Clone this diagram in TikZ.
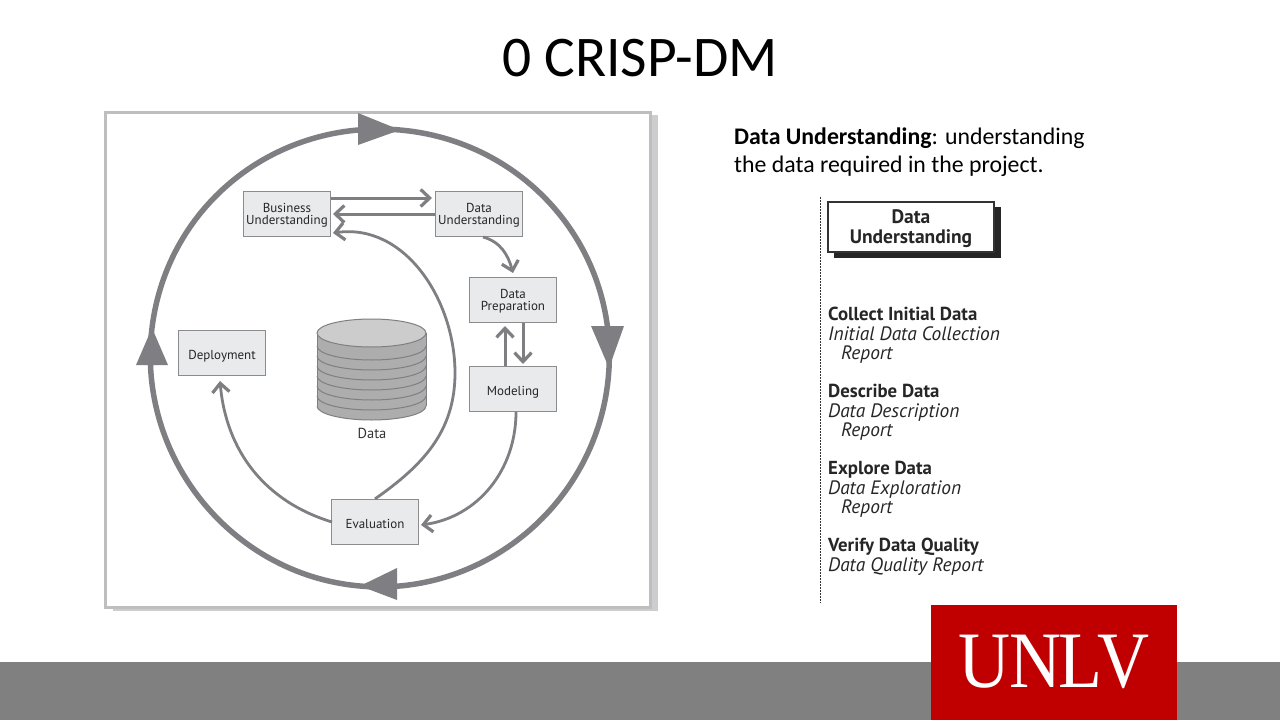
\documentclass[tikz,border=0pt]{standalone}
\usepackage{fontspec}
\setmainfont{Carlito}
\newfontfamily\figfont{PT Sans}
\newfontfamily\logofont{Liberation Serif}
\usepackage{xcolor}
\usetikzlibrary{arrows.meta,positioning}
\definecolor{cycgray}{HTML}{7F7F83}
\definecolor{boxfill}{HTML}{E9EAEB}
\definecolor{framegray}{HTML}{BEBEBE}
\definecolor{shadowgray}{HTML}{CDCDD0}
\definecolor{unlvred}{HTML}{C00000}
\newcommand{\taskname}[1]{{\bfseries\fontsize{18.8}{19.5}\selectfont #1}}
\newcommand{\taskwork}[1]{{\itshape\fontsize{19.4}{19.5}\selectfont #1}}
\tikzset{
  phase/.style ={draw=cycgray!90, line width=1.2pt, fill=boxfill, minimum width=87pt, minimum height=45pt, inner sep=0pt, align=center, text=black!85, text depth=0pt, font=\figfont\fontsize{13}{12}\selectfont},
  phase one/.style={phase, text height=13.5pt},
  cyc/.style   ={draw=cycgray, line width=5.5pt},
  cychead/.style={fill=cycgray},
  arr/.style   ={draw=cycgray, line width=3pt, -{Straight Barb[length=9pt,width=17pt,line width=3.2pt]}},
  thin arr/.style={arr, line width=2.8pt},
  task/.style  ={anchor=north west, inner sep=0pt, align=left, text=black!85, font=\figfont\fontsize{18}{19.5}\selectfont},
}
\begin{document}
\begin{tikzpicture}[x=1pt,y=-1pt]
  \useasboundingbox (0,0) rectangle (1280,720);
  \fill[white] (0,0) rectangle (1280,720);
  % slide furniture
  \fill[black!50] (0,662) rectangle (1280,720);
  \fill[unlvred] (931,605) rectangle (1177,720);
  \node[text=white, font=\logofont\fontsize{80}{80}\selectfont, inner sep=0pt] (logo) at (1054,662) {\scalebox{0.9}[1]{U\kern-2pt N\kern-3pt L\kern-6pt V}};
  \node[font=\fontsize{57.5}{57.5}\selectfont, inner sep=0pt] (title) at (640,58) {0 CRISP-DM};

  % frame of the cycle
  \fill[shadowgray] (113,115) rectangle (658,611);
  \draw[framegray, line width=3pt, fill=white] (105,112) rectangle (650,607);

  % outer cycle
  \coordinate (cycTop) at (400,130);
  \coordinate (cycRight) at (609,368);
  \coordinate (cycBottom) at (360,586);
  \coordinate (cycLeft) at (152,328);
  \draw[cyc] (cycLeft) to[out=83,in=175] (cycTop);
  \draw[cyc] (cycTop) to[out=-5,in=87] (cycRight);
  \draw[cyc] (cycRight) to[out=-93,in=-5] (cycBottom);
  \draw[cyc] (cycBottom) to[out=175,in=-97] (cycLeft);
  \fill[cychead] (cycTop) -- (358,113) -- (358,145) -- cycle;
  \fill[cychead] (cycRight) -- (591,326) -- (624,326) -- cycle;
  \fill[cychead] (cycBottom) -- (397,568) -- (397,600) -- cycle;
  \fill[cychead] (cycLeft) -- (136,365) -- (168,365) -- cycle;

  % data cylinder
  \fill[black!32] (317,333) -- (317,406) arc[start angle=180,end angle=360,x radius=54.5pt,y radius=14pt] -- (426,333) -- cycle;
  \foreach \y in {346,356,366,376,386,396,406}
    \draw[cycgray, line width=1pt] (317,\y) arc[start angle=180,end angle=360,x radius=54.5pt,y radius=14pt];
  \draw[cycgray, line width=1pt] (317,333) -- (317,406) (426,333) -- (426,406);
  \draw[cycgray, line width=1pt, fill=black!20] (371.5,333) ellipse[x radius=54.5pt,y radius=14pt];
  \node[font=\figfont\fontsize{14.5}{14.5}\selectfont, text=black!80] (data) at (372,433) {Data};

  % phases
  \node[phase] (bus)  at (287,214) {Business\\Understanding};
  \node[phase] (und)  at (479,214) {Data\\Understanding};
  \node[phase] (prep) at (513,300) {Data\\Preparation};
  \node[phase one] (mod)  at (513,389) {Modeling};
  \node[phase one] (eval) at (375,522) {Evaluation};
  \node[phase one] (dep)  at (222,353) {Deployment};

  \coordinate (busTop) at (331,198);
  \coordinate (undTop) at (432,198);
  \coordinate (undMid) at (435,214);
  \coordinate (busMid) at (333,214);
  \coordinate (busLow) at (333,233);
  \coordinate (evalBend) at (455,373);
  \coordinate (undOut) at (483,237);
  \coordinate (prepIn) at (513,273);
  \coordinate (modUp) at (505,366);
  \coordinate (prepUp) at (505,326);
  \coordinate (prepDown) at (523,323);
  \coordinate (modDown) at (523,364);
  \coordinate (modOut) at (516,412);
  \coordinate (evalIn) at (421,525);
  \coordinate (evalOut) at (332,522);
  \coordinate (depIn) at (220,381);

  \draw[arr] (busTop)--(undTop);
  \draw[arr] (undMid)--(busMid);
  \draw[arr] (modUp)--(prepUp);
  \draw[arr] (prepDown)--(modDown);
  \draw[thin arr] (undOut) to[out=-15,in=105] (prepIn);
  \draw[thin arr] (modOut) to[out=-90,in=8] (evalIn);
  \draw[thin arr] (evalOut) to[out=163,in=-85] (depIn);
  \draw[thin arr] (eval.north) to[out=35,in=-90] (evalBend) to[out=90,in=8] (busLow);

  % task list on the right
  \node[anchor=base west, inner sep=0pt, font=\fontsize{23.8}{28}\selectfont, align=left] (lead) at (734,172) {\textbf{Data Understanding}: understanding\\the data required in the project.};
  \coordinate (ruleTop) at (820,197);
  \coordinate (ruleEnd) at (820,603);
  \draw[black!80, line width=.8pt, dash pattern=on 2pt off 1pt] (ruleTop)--(ruleEnd);

  \fill[black!85] (834,207) rectangle (1001,258);
  \node[draw=black!80, line width=1.2pt, fill=white, minimum width=166pt, minimum height=50pt, inner sep=0pt, align=center, text=black!85, text depth=0pt, font=\figfont\bfseries\fontsize{19.5}{20}\selectfont] (head) at (911,227) {Data\\Understanding};

  \node[task] (collect)  at (828,307) {\taskname{Collect Initial Data}\\\taskwork{Initial Data Collection}\\\hspace*{13pt}\taskwork{Report}};
  \node[task] (describe) at (828,384) {\taskname{Describe Data}\\\taskwork{Data Description}\\\hspace*{13pt}\taskwork{Report}};
  \node[task] (explore)  at (828,461) {\taskname{Explore Data}\\\taskwork{Data Exploration}\\\hspace*{13pt}\taskwork{Report}};
  \node[task] (verify)   at (828,538) {\taskname{Verify Data Quality}\\\taskwork{Data Quality Report}};
\end{tikzpicture}
\end{document}
